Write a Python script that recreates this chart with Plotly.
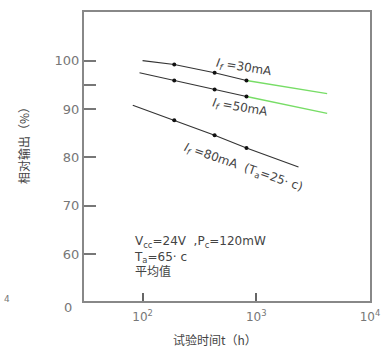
import plotly.graph_objects as go

# Data
dot_hours = [190, 430, 820]
hours_30 = [100, 190, 430, 820]
vals_30 = [100.0, 99.2, 97.5, 95.9]
green_hours_30 = [820, 4200]
green_vals_30 = [95.9, 93.2]

hours_50 = [94, 190, 430, 820]
vals_50 = [97.5, 95.9, 94.05, 92.6]
green_hours_50 = [820, 4200]
green_vals_50 = [92.6, 89.1]

hours_80 = [82, 190, 430, 820, 2350]
vals_80 = [90.8, 87.7, 84.6, 81.95, 78.05]

y_ticks = [60, 70, 80, 90, 95, 100]
y_ticktext = ["60", "70", "80", "90", "", "100"]
x_ticks = [100, 1000, 10000]
x_ticktext = ["10<sup>2</sup>", "10<sup>3</sup>", "10<sup>4</sup>"]

LINE = "#333333"
GREEN = "#77dd66"
GREY = "#777777"
TXT = "#444444"
FONT = "DejaVu Sans, Noto Sans CJK SC"

fig = go.Figure()
for hx, vy in [(hours_30, vals_30), (hours_50, vals_50), (hours_80, vals_80)]:
    fig.add_trace(go.Scatter(x=hx, y=vy, mode="lines",
                             line=dict(color=LINE, width=1.1), showlegend=False, hoverinfo="skip"))
for hx, vy in [(green_hours_30, green_vals_30), (green_hours_50, green_vals_50)]:
    fig.add_trace(go.Scatter(x=hx, y=vy, mode="lines",
                             line=dict(color=GREEN, width=1.4), showlegend=False, hoverinfo="skip"))
for hx, vy in [(hours_30, vals_30), (hours_50, vals_50), (hours_80, vals_80)]:
    dx = [h for h in hx if h in dot_hours]
    dy = [v for h, v in zip(hx, vy) if h in dot_hours]
    fig.add_trace(go.Scatter(x=dx, y=dy, mode="markers",
                             marker=dict(color="#111111", size=4), showlegend=False, hoverinfo="skip"))

fig.update_layout(
    width=390, height=351,
    margin=dict(l=84, r=16, t=10, b=50),
    paper_bgcolor="white", plot_bgcolor="white",
    font=dict(family=FONT, color=GREY, size=13),
    xaxis=dict(type="log", range=[1.485, 4.0], tickvals=x_ticks, ticktext=x_ticktext,
               ticks="inside", ticklen=8, tickwidth=1.5, tickcolor="#666666",
               showline=True, linecolor="#888888", linewidth=2, mirror=True,
               showgrid=False, zeroline=False, layer="above traces",
               ticklabelstandoff=4,
               tickfont=dict(size=12, color=GREY)),
    yaxis=dict(range=[50.36, 110.05], tickvals=y_ticks, ticktext=y_ticktext,
               ticks="inside", ticklen=12, tickwidth=1.5, tickcolor="#777777",
               showline=True, linecolor="#888888", linewidth=2, mirror=True,
               showgrid=False, zeroline=False, layer="above traces",
               tickfont=dict(size=13, color=GREY)),
)


def px(x):
    return (x - 84) / 290


def py(y):
    return (301 - y) / 291


ann = []
base = dict(xref="paper", yref="paper", showarrow=False, xanchor="center", yanchor="middle")
ann.append(dict(base, x=px(68), y=py(308), text="0", font=dict(size=13, color=GREY)))
ann.append(dict(base, x=px(6), y=py(299), text="4", font=dict(size=9, color=GREY)))
# axis titles
ann.append(dict(base, x=px(22), y=py(141), text="相对输出（%）", textangle=-90,
                font=dict(size=12, color=TXT, family="Noto Sans CJK SC")))
ann.append(dict(base, x=px(217), y=py(340), text="试验时间t（h）",
                font=dict(size=12, color=TXT, family="Noto Sans CJK SC")))
# curve labels
ann.append(dict(base, x=px(246), y=py(66), text="<i>I<sub>f</sub></i> =30mA", textangle=9,
                font=dict(size=12, color=TXT)))
ann.append(dict(base, x=px(242), y=py(107), text="<i>I<sub>f</sub></i> =50mA", textangle=10,
                font=dict(size=12, color=TXT)))
ann.append(dict(base, x=px(246), y=py(167), text="<i>I<sub>f</sub></i> =80mA  (T<sub>a</sub>=25· c)",
                textangle=19, font=dict(size=12, color=TXT)))
# conditions
ann.append(dict(base, x=px(133), y=py(232), xanchor="left", yanchor="top", align="left",
                text="V<sub>cc</sub>=24V  ,P<sub>c</sub>=120mW<br>T<sub>a</sub>=65· c<br>平均值",
                font=dict(size=12, color=TXT, family=FONT)))
fig.update_layout(annotations=ann)

fig.write_html("out.html")
